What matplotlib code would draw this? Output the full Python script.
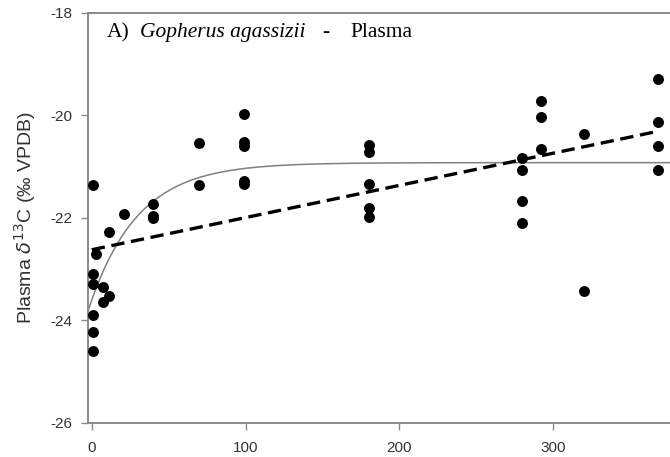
import numpy as np
import matplotlib
matplotlib.use("Agg")
import matplotlib.pyplot as plt

plt.rcParams["axes.unicode_minus"] = False

# days vs plasma d13C
days = [1, 1, 1, 1, 1, 1, 3, 7, 7, 11, 11, 21, 40, 40, 40,
        70, 70, 99, 99, 99, 99, 99,
        180, 180, 180, 180, 180,
        280, 280, 280, 280, 292, 292, 292, 320, 320,
        368, 368, 368, 368]
d13c = [-21.35, -23.09, -23.29, -23.90, -24.22, -24.59, -22.70, -23.35, -23.63, -23.53, -22.27, -21.93, -21.72, -21.96, -22.00,
        -20.54, -21.35, -19.98, -20.52, -20.59, -21.27, -21.33,
        -20.57, -20.72, -21.34, -21.80, -21.98,
        -20.82, -21.07, -21.67, -22.10, -19.71, -20.02, -20.65, -20.36, -23.42,
        -19.28, -20.13, -20.60, -21.06]

# fitted models (parameters estimated from the drawn curves)
lin_intercept, lin_slope = -22.62, 0.00628
exp_plateau, exp_amp, exp_rate = -20.92, 2.68, 0.0318

xticks = [0, 100, 200, 300]
yticks = [-26, -24, -22, -20, -18]

fig = plt.figure(figsize=(6.7, 4.57), dpi=100)
ax = fig.add_axes([0.131, 0.0744, 0.869, 0.8972])

xs = np.linspace(-2.6, 376, 400)
ax.plot(xs, exp_plateau - exp_amp * np.exp(-exp_rate * xs), color="#808080", lw=1.1, zorder=2)
xl = np.linspace(0, 368, 2)
ax.plot(xl, lin_intercept + lin_slope * xl, color="black", lw=2.4, dashes=(4, 2), zorder=3)
ax.scatter(days, d13c, s=62, color="black", zorder=4, linewidths=0)

ax.set_xlim(-2.6, 376)
ax.set_ylim(-26, -18)
ax.set_xticks(xticks)
ax.set_yticks(yticks)

for side in ["left", "bottom", "top"]:
    ax.spines[side].set_color("#8a8a8a")
    ax.spines[side].set_linewidth(1.4)
ax.spines["right"].set_visible(False)
ax.tick_params(direction="out", length=5, width=1, color="#8a8a8a",
               labelsize=11, labelcolor="#333333")
ax.tick_params(axis="y", pad=6)
ax.tick_params(axis="x", pad=8)
for lab in ax.get_xticklabels() + ax.get_yticklabels():
    lab.set_fontfamily("Liberation Sans")

ax.set_ylabel("Plasma $\\delta^{13}$C (‰ VPDB)", fontsize=14, family="Liberation Sans",
              color="#333333", labelpad=9)

ty = 1 - 37 / 457
fig.text(107 / 670, ty, "A)", fontsize=15.5, family="Liberation Serif", va="baseline")
fig.text(140 / 670, ty, "Gopherus agassizii", fontsize=15.5, family="Liberation Serif",
         style="italic", va="baseline")
fig.text(322 / 670, ty, "-", fontsize=15.5, family="Liberation Serif", va="baseline")
fig.text(350 / 670, ty, "Plasma", fontsize=15.5, family="Liberation Serif", va="baseline")

fig.savefig("out.png", dpi=100)
